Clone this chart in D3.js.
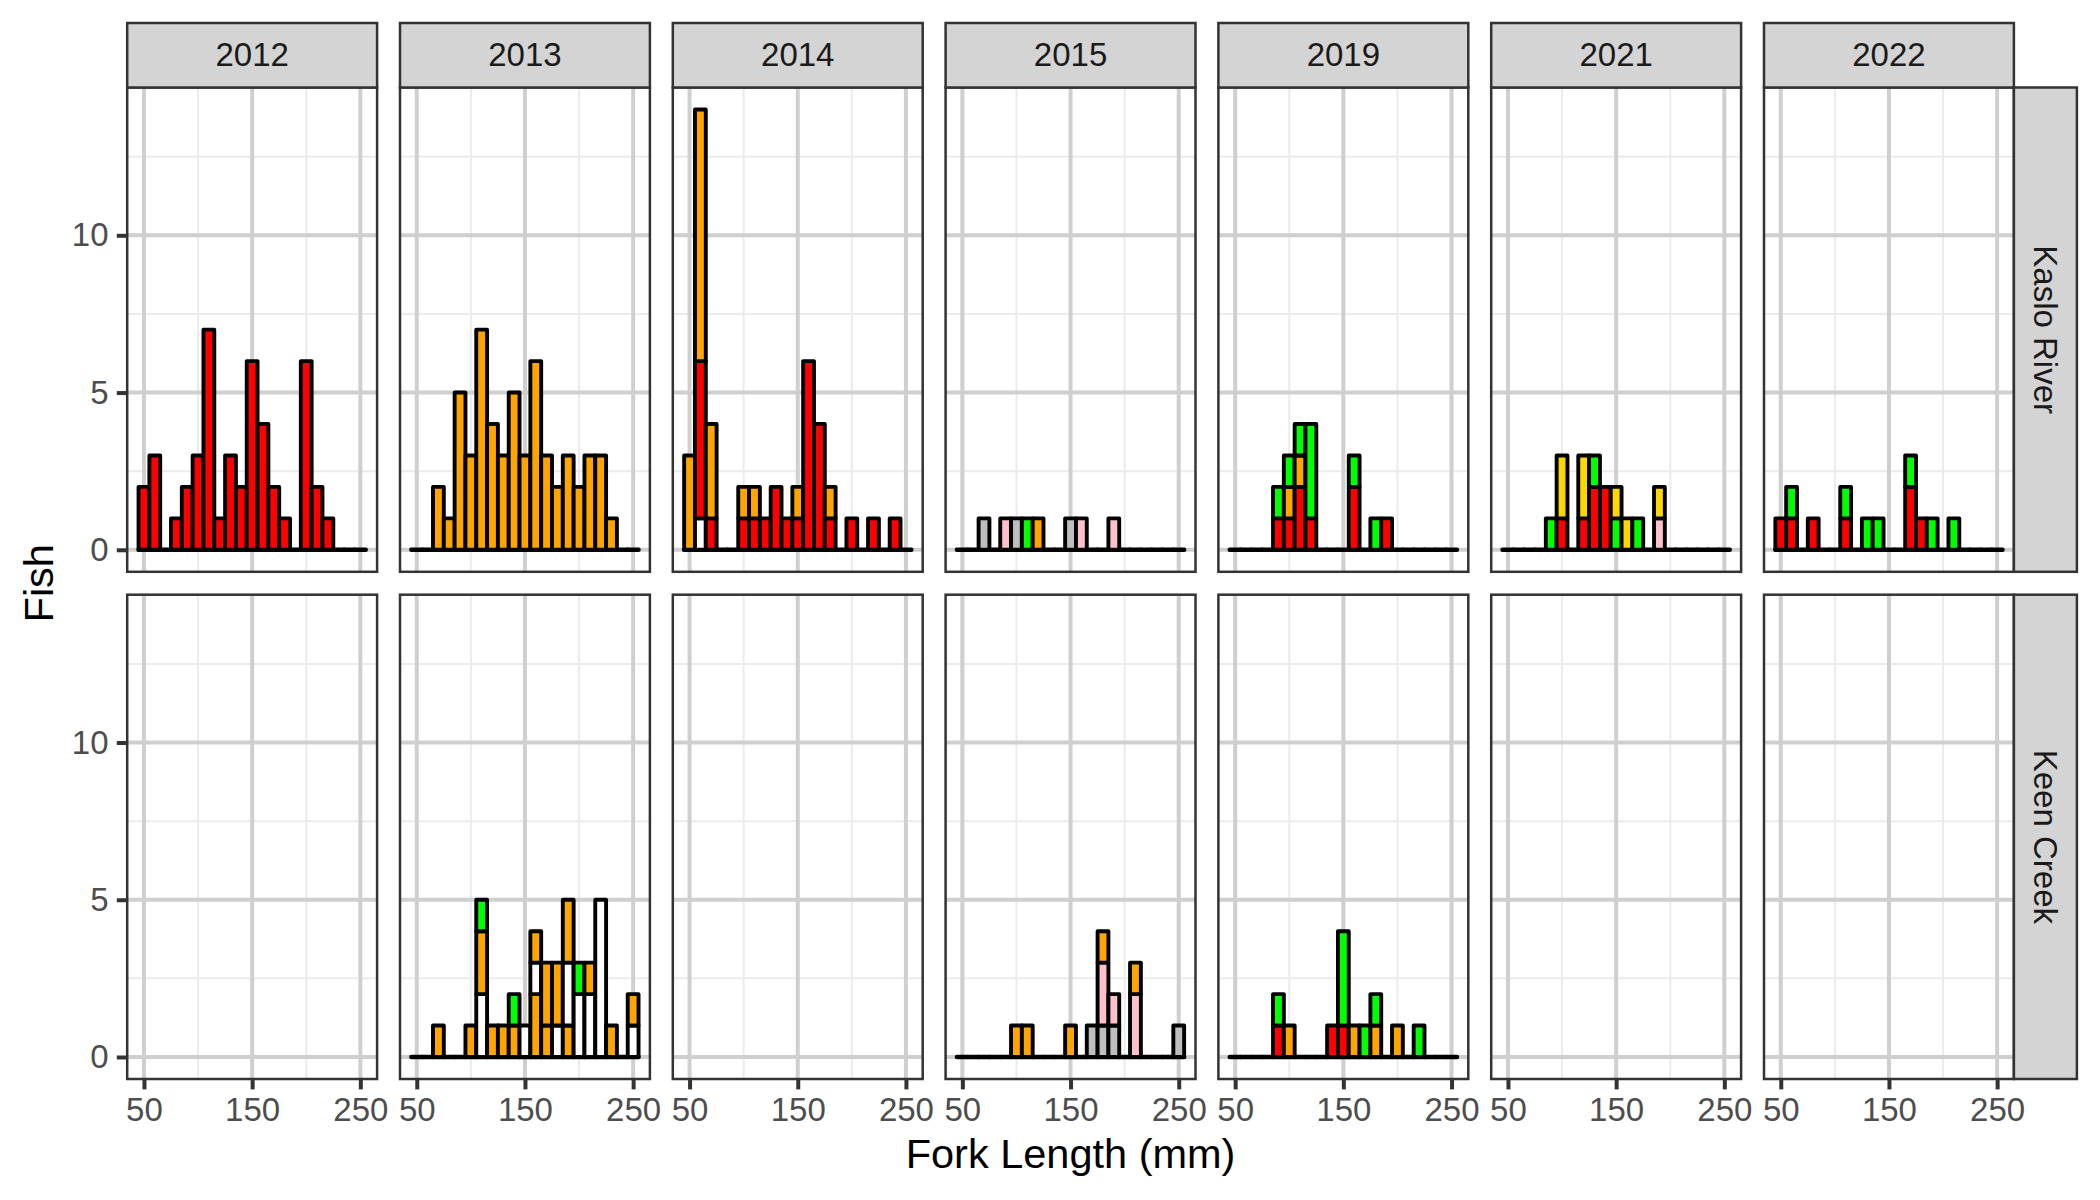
<!DOCTYPE html>
<html>
<head>
<meta charset="utf-8">
<script src="https://cdn.jsdelivr.net/npm/d3@7"></script>
<style>
  html, body { margin: 0; padding: 0; background: #ffffff; }
  svg { display: block; }
  text { font-family: "Liberation Sans", Arial, Helvetica, sans-serif; }
</style>
</head>
<body>
<div id="chart"></div>
<script>
// ---------------- DATA ----------------
const years = ["2012", "2013", "2014", "2015", "2019", "2021", "2022"];
const rivers = ["Kaslo River", "Keen Creek"];
const binCenters = [50, 60, 70, 80, 90, 100, 110, 120, 130, 140, 150, 160, 170, 180, 190, 200, 210, 220, 230, 240, 250];
const binWidth = 10;
const xMajorTicks = [50, 150, 250];
const xMinorTicks = [100, 200];
const yMajorTicks = [0, 5, 10];
const yMinorTicks = [2.5, 7.5, 12.5];
const fillColors = { white: "#FFFFFF", grey: "#BEBEBE", pink: "#FFC0CB", red: "#FF0000", orange: "#FFA500", green: "#00FF00", gold: "#FFD700" };

// segments: [bin centre (mm), fill class, fish count], listed bottom-to-top within each bin
const kaslo2012 = [[50,"red",2],[60,"red",3],[80,"red",1],[90,"red",2],[100,"red",3],[110,"red",7],[120,"red",1],[130,"red",3],[140,"red",2],[150,"red",6],[160,"red",4],[170,"red",2],[180,"red",1],[200,"red",6],[210,"red",2],[220,"red",1]];
const kaslo2013 = [[70,"orange",2],[80,"orange",1],[90,"orange",5],[100,"orange",3],[110,"orange",7],[120,"orange",4],[130,"orange",3],[140,"orange",5],[150,"orange",3],[160,"orange",6],[170,"orange",3],[180,"orange",2],[190,"orange",3],[200,"orange",2],[210,"orange",3],[220,"orange",3],[230,"orange",1]];
const kaslo2014 = [[50,"orange",3],[60,"white",1],[60,"red",5],[60,"orange",8],[70,"red",1],[70,"orange",3],[100,"red",1],[100,"orange",1],[110,"red",1],[110,"orange",1],[120,"red",1],[130,"red",2],[140,"red",1],[150,"red",1],[150,"orange",1],[160,"red",6],[170,"red",4],[180,"red",1],[180,"orange",1],[200,"red",1],[220,"red",1],[240,"red",1]];
const kaslo2015 = [[70,"grey",1],[90,"pink",1],[100,"grey",1],[110,"green",1],[120,"orange",1],[150,"grey",1],[160,"pink",1],[190,"pink",1]];
const kaslo2019 = [[90,"red",1],[90,"green",1],[100,"red",1],[100,"orange",1],[100,"green",1],[110,"red",2],[110,"orange",1],[110,"green",1],[120,"red",1],[120,"green",3],[160,"red",2],[160,"green",1],[180,"green",1],[190,"red",1]];
const kaslo2021 = [[90,"green",1],[100,"red",1],[100,"gold",2],[120,"red",1],[120,"gold",2],[130,"red",2],[130,"green",1],[140,"red",2],[150,"green",1],[150,"gold",1],[160,"gold",1],[170,"green",1],[190,"pink",1],[190,"gold",1]];
const kaslo2022 = [[50,"red",1],[60,"red",1],[60,"green",1],[80,"red",1],[110,"red",1],[110,"green",1],[130,"green",1],[140,"green",1],[170,"red",2],[170,"green",1],[180,"red",1],[190,"green",1],[210,"green",1]];
const keen2013 = [[70,"orange",1],[100,"orange",1],[110,"white",2],[110,"orange",2],[110,"green",1],[120,"orange",1],[130,"orange",1],[140,"orange",1],[140,"green",1],[150,"white",1],[160,"orange",2],[160,"white",1],[160,"orange",1],[170,"orange",1],[170,"orange",2],[180,"white",1],[180,"orange",2],[190,"orange",1],[190,"white",2],[190,"orange",2],[200,"white",2],[200,"green",1],[210,"white",2],[210,"orange",1],[220,"white",5],[230,"orange",1],[250,"white",1],[250,"orange",1]];
const keen2015 = [[100,"orange",1],[110,"orange",1],[150,"orange",1],[170,"grey",1],[180,"grey",1],[180,"pink",2],[180,"orange",1],[190,"grey",1],[190,"pink",1],[210,"pink",2],[210,"orange",1],[250,"grey",1]];
const keen2019 = [[90,"red",1],[90,"green",1],[100,"orange",1],[140,"red",1],[150,"red",1],[150,"green",3],[160,"orange",1],[170,"green",1],[180,"orange",1],[180,"green",1],[200,"orange",1],[220,"green",1]];

const panelData = {
  "Kaslo River|2012": kaslo2012, "Kaslo River|2013": kaslo2013, "Kaslo River|2014": kaslo2014,
  "Kaslo River|2015": kaslo2015, "Kaslo River|2019": kaslo2019, "Kaslo River|2021": kaslo2021,
  "Kaslo River|2022": kaslo2022,
  "Keen Creek|2013": keen2013, "Keen Creek|2015": keen2015, "Keen Creek|2019": keen2019
};

// ---------------- LAYOUT ----------------
const W = 2100, H = 1200;
const stripTop = 23, panelTop = 87.5, panelH = 484.3, vGap = 22.9;
const panelLeft = 127.2, panelW = 249.9, hGap = 22.9;
const rightStripW = 63;
const axisFont = 33, stripFont = 33, titleFont = 41.5;
const barStroke = 3.9;

const x = d3.scaleLinear().domain([34.5, 265.5]).range([0, panelW]);
const y = d3.scaleLinear().domain([-0.7, 14.7]).range([panelH, 0]);

const svg = d3.select("#chart").append("svg").attr("width", W).attr("height", H);
svg.append("rect").attr("width", W).attr("height", H).attr("fill", "#ffffff");

const colX = i => panelLeft + i * (panelW + hGap);
const rowY = j => panelTop + j * (panelH + vGap);

rivers.forEach((river, j) => {
  years.forEach((yr, i) => {
    const g = svg.append("g").attr("transform", `translate(${colX(i)},${rowY(j)})`);
    g.append("rect").attr("width", panelW).attr("height", panelH).attr("fill", "#ffffff");
    // minor grid
    g.selectAll(null).data(xMinorTicks).join("line")
      .attr("x1", d => x(d)).attr("x2", d => x(d)).attr("y1", 0).attr("y2", panelH)
      .attr("stroke", "#EBEBEB").attr("stroke-width", 2);
    g.selectAll(null).data(yMinorTicks).join("line")
      .attr("y1", d => y(d)).attr("y2", d => y(d)).attr("x1", 0).attr("x2", panelW)
      .attr("stroke", "#EBEBEB").attr("stroke-width", 2);
    // major grid
    g.selectAll(null).data(xMajorTicks).join("line")
      .attr("x1", d => x(d)).attr("x2", d => x(d)).attr("y1", 0).attr("y2", panelH)
      .attr("stroke", "#CFCFCF").attr("stroke-width", 4);
    g.selectAll(null).data(yMajorTicks).join("line")
      .attr("y1", d => y(d)).attr("y2", d => y(d)).attr("x1", 0).attr("x2", panelW)
      .attr("stroke", "#CFCFCF").attr("stroke-width", 4);

    const segs = panelData[river + "|" + yr];
    if (segs) {
      // stack the segments
      const cum = {};
      const rects = segs.map(([bin, cls, n]) => {
        const y0 = cum[bin] || 0;
        cum[bin] = y0 + n;
        return { bin, cls, y0, y1: y0 + n };
      });
      const rectPath = d => {
        const p = d3.path();
        const xl = x(d.bin - binWidth / 2), xr = x(d.bin + binWidth / 2);
        const yb = y(d.y0), yt = y(d.y1);
        p.moveTo(xl, yb); p.lineTo(xl, yt); p.lineTo(xr, yt); p.lineTo(xr, yb); p.closePath();
        return p.toString();
      };
      // zero-count bins drawn as flat outlines on the baseline
      g.selectAll(null).data(binCenters.map(b => ({ bin: b, y0: 0, y1: 0 }))).join("path")
        .attr("d", rectPath).attr("fill", "none")
        .attr("stroke", "#000").attr("stroke-width", barStroke + 0.6).attr("stroke-linejoin", "round");
      g.selectAll(null).data(rects).join("path")
        .attr("d", rectPath).attr("fill", d => fillColors[d.cls])
        .attr("stroke", "#000").attr("stroke-width", barStroke).attr("stroke-linejoin", "round");
    }
    // border
    g.append("rect").attr("width", panelW).attr("height", panelH).attr("fill", "none")
      .attr("stroke", "#333333").attr("stroke-width", 2.5);

    // axes
    if (j === rivers.length - 1) {
      const ax = g.append("g").attr("transform", `translate(0,${panelH})`)
        .call(d3.axisBottom(x).tickValues(xMajorTicks).tickSize(10.4).tickPadding(8.3).tickFormat(d3.format("d")));
      ax.select(".domain").remove();
      ax.selectAll(".tick line").attr("stroke", "#333333").attr("stroke-width", 4);
      ax.selectAll(".tick text").attr("fill", "#4D4D4D").attr("font-size", axisFont)
        .attr("font-family", "'Liberation Sans', Arial, sans-serif");
    }
    if (i === 0) {
      const ay = g.append("g")
        .call(d3.axisLeft(y).tickValues(yMajorTicks).tickSize(10.4).tickPadding(8.3).tickFormat(d3.format("d")));
      ay.select(".domain").remove();
      ay.selectAll(".tick line").attr("stroke", "#333333").attr("stroke-width", 4);
      ay.selectAll(".tick text").attr("fill", "#4D4D4D").attr("font-size", axisFont)
        .attr("font-family", "'Liberation Sans', Arial, sans-serif");
    }
  });
});

// top strips
years.forEach((yr, i) => {
  const g = svg.append("g").attr("transform", `translate(${colX(i)},${stripTop})`);
  const h = panelTop - stripTop;
  g.append("rect").attr("width", panelW).attr("height", h).attr("fill", "#D4D4D4")
    .attr("stroke", "#333333").attr("stroke-width", 2.5);
  g.append("text").attr("x", panelW / 2).attr("y", h / 2 + stripFont * 0.34)
    .attr("text-anchor", "middle").attr("font-size", stripFont).attr("fill", "#1A1A1A").text(yr);
});
// right strips
const rsx = colX(years.length - 1) + panelW;
rivers.forEach((river, j) => {
  const g = svg.append("g").attr("transform", `translate(${rsx},${rowY(j)})`);
  g.append("rect").attr("width", rightStripW).attr("height", panelH).attr("fill", "#D4D4D4")
    .attr("stroke", "#333333").attr("stroke-width", 2.5);
  g.append("text")
    .attr("transform", `translate(${rightStripW / 2 - stripFont * 0.36},${panelH / 2}) rotate(90)`)
    .attr("text-anchor", "middle").attr("font-size", stripFont).attr("fill", "#1A1A1A").text(river);
});

// axis titles
const plotLeft = colX(0), plotRight = colX(years.length - 1) + panelW;
svg.append("text").attr("x", (plotLeft + plotRight) / 2).attr("y", 1168)
  .attr("text-anchor", "middle").attr("font-size", titleFont).attr("fill", "#000").text("Fork Length (mm)");
svg.append("text")
  .attr("transform", `translate(53,${(rowY(0) + rowY(1) + panelH) / 2}) rotate(-90)`)
  .attr("text-anchor", "middle").attr("font-size", titleFont).attr("fill", "#000").text("Fish");
</script>
</body>
</html>
